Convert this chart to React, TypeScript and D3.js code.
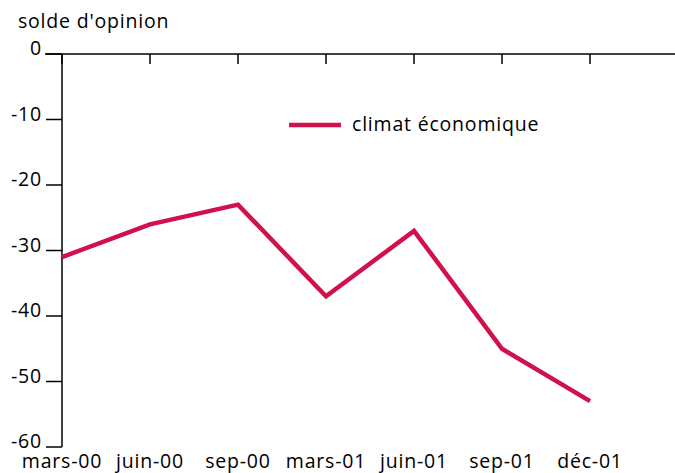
import React from "react";
import * as d3 from "d3";

const categories = ["mars-00", "juin-00", "sep-00", "mars-01", "juin-01", "sep-01", "déc-01"];
const climatValues = [-31, -26, -23, -37, -27, -45, -53];
const yTicks = [0, -10, -20, -30, -40, -50, -60];
const seriesName = "climat économique";
const yTitle = "solde d'opinion";

const W = 675;
const H = 473;
const FONT = "'Open Sans', Lato, sans-serif";
const FS = 19.5;
const LS = 0.8;
const COLOR = "#D0114B";

export default function App() {
  const x = d3.scalePoint<string>().domain(categories).range([62, 590]);
  const y = d3.scaleLinear().domain([-60, 0]).range([447, 54]);
  const line = d3
    .line<number>()
    .x((_, i) => x(categories[i]) as number)
    .y((d) => y(d));

  return (
    <svg width={W} height={H} style={{ position: "absolute", left: 0, top: 0, background: "#fff" }}>
      <text x={18} y={28} fontFamily={FONT} fontSize={FS} letterSpacing={LS} fill="#000">{yTitle}</text>
      <line x1={45} x2={675} y1={y(0)} y2={y(0)} stroke="#000" strokeWidth={1.5} />
      {categories.map((c) => (
        <line key={c} x1={x(c)} x2={x(c)} y1={y(0)} y2={y(0) + 10} stroke="#000" strokeWidth={1.5} />
      ))}
      <line x1={62} x2={62} y1={y(0)} y2={y(-60)} stroke="#000" strokeWidth={1.5} />
      {yTicks.map((t) => (
        <g key={t}>
          <line x1={46} x2={62} y1={y(t)} y2={y(t)} stroke="#000" strokeWidth={1.5} />
          <text x={42} y={y(t) + 1} textAnchor="end" fontFamily={FONT} fontSize={FS} letterSpacing={LS} fill="#000">{t}</text>
        </g>
      ))}
      {categories.map((c) => (
        <text key={c} x={x(c)} y={468} textAnchor="middle" fontFamily={FONT} fontSize={FS} letterSpacing={LS} fill="#000">{c}</text>
      ))}
      <path d={line(climatValues) ?? ""} fill="none" stroke={COLOR} strokeWidth={4.5} strokeLinejoin="miter" />
      <line x1={289} x2={341} y1={125} y2={125} stroke={COLOR} strokeWidth={4.5} />
      <text x={352} y={131} fontFamily={FONT} fontSize={FS} letterSpacing={LS} fill="#000">{seriesName}</text>
    </svg>
  );
}
